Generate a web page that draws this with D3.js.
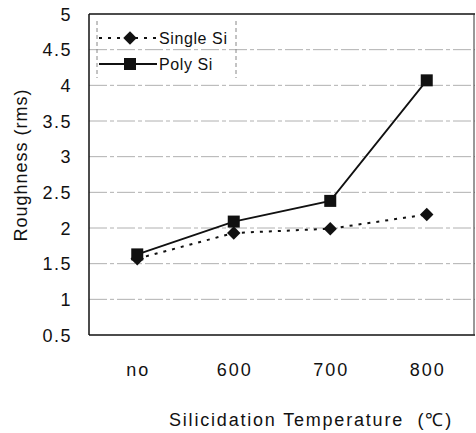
<!DOCTYPE html>
<html><head><meta charset="utf-8">
<script src="https://cdn.jsdelivr.net/npm/d3@7"></script>
<style>body{margin:0;background:#fff}</style>
</head><body><svg id="c" width="476" height="433"></svg>
<script>
const categories = ["no","600","700","800"];
const singleSi = [1.57,1.93,1.99,2.19];
const polySi = [1.63,2.09,2.38,4.07];
const yTicks = [0.5,1,1.5,2,2.5,3,3.5,4,4.5,5];
const yTickLabels = ["0.5","1","1.5","2","2.5","3","3.5","4","4.5","5"];

const svg = d3.select("#c");
const m = {l:89, t:14, r:475, b:335};
const font = "Liberation Sans, Arial, sans-serif";
const x = d3.scalePoint().domain(categories).range([m.l, m.r]).padding(0.5);
const y = d3.scaleLinear().domain([0.5,5]).range([m.b, m.t]);

// grid
svg.append("g").selectAll("line").data(yTicks.filter(d=>d>0.5 && d<5)).join("line")
  .attr("x1", m.l).attr("x2", m.r).attr("y1", d=>y(d)).attr("y2", d=>y(d))
  .attr("stroke","#b0b0b0").attr("stroke-width",1).attr("stroke-dasharray","18,3,4,3");

// frame
svg.append("line").attr("x1",m.l).attr("x2",m.r).attr("y1",m.t).attr("y2",m.t).attr("stroke","#111").attr("stroke-width",1.5);
svg.append("line").attr("x1",m.l).attr("x2",m.r).attr("y1",m.b).attr("y2",m.b).attr("stroke","#111").attr("stroke-width",1.5);
svg.append("line").attr("x1",m.l).attr("x2",m.l).attr("y1",m.t).attr("y2",m.b).attr("stroke","#111").attr("stroke-width",1.5);
svg.append("line").attr("x1",m.r-1).attr("x2",m.r-1).attr("y1",m.t).attr("y2",m.b).attr("stroke","#333").attr("stroke-width",1);

// y axis labels
svg.append("g").selectAll("text").data(yTicks).join("text")
  .attr("x", 72).attr("y", d=>y(d)+6.5).attr("text-anchor","end")
  .attr("font-family",font).attr("font-size",18).attr("letter-spacing",1.5).attr("fill","#111")
  .text((d,i)=>yTickLabels[i]);

// x axis labels
svg.append("g").selectAll("text").data(categories).join("text")
  .attr("x", d=>x(d)+1).attr("y", 376).attr("text-anchor","middle")
  .attr("font-family",font).attr("font-size",18).attr("letter-spacing",2).attr("fill","#111").text(d=>d);

svg.append("text").attr("x",311).attr("y",426).attr("text-anchor","middle")
  .attr("font-family",font).attr("font-size",18).attr("letter-spacing",1.8).attr("fill","#111")
  .attr("xml:space","preserve").text("Silicidation Temperature  (\u2103)");

svg.append("text").attr("transform","translate(27,165) rotate(-90)").attr("text-anchor","middle")
  .attr("font-family",font).attr("font-size",18).attr("letter-spacing",1).attr("fill","#111").text("Roughness (rms)");

// lines
const line = d3.line().x((d,i)=>x(categories[i])).y(d=>y(d));
svg.append("path").datum(singleSi).attr("d",line).attr("fill","none")
  .attr("stroke","#111").attr("stroke-width",2).attr("stroke-dasharray","3,6");
svg.append("path").datum(polySi).attr("d",line).attr("fill","none")
  .attr("stroke","#111").attr("stroke-width",1.8);

const diamond = d3.symbol().type(d3.symbolDiamond2 || d3.symbolDiamond).size(115);
svg.append("g").selectAll("path").data(singleSi).join("path")
  .attr("transform",(d,i)=>`translate(${x(categories[i])},${y(d)})`).attr("d",diamond).attr("fill","#111");
svg.append("g").selectAll("rect").data(polySi).join("rect")
  .attr("x",(d,i)=>x(categories[i])-6).attr("y",d=>y(d)-6).attr("width",12).attr("height",12).attr("fill","#111");

// legend
const lg = svg.append("g");
lg.append("line").attr("x1",97).attr("x2",97).attr("y1",21).attr("y2",78).attr("stroke","#888").attr("stroke-dasharray","4,3");
lg.append("line").attr("x1",236).attr("x2",236).attr("y1",21).attr("y2",78).attr("stroke","#888").attr("stroke-dasharray","4,3");
lg.append("line").attr("x1",99).attr("x2",157).attr("y1",38).attr("y2",38).attr("stroke","#111").attr("stroke-width",2).attr("stroke-dasharray","3,6");
lg.append("path").attr("transform","translate(130,38)").attr("d",diamond).attr("fill","#111");
lg.append("line").attr("x1",99).attr("x2",157).attr("y1",64).attr("y2",64).attr("stroke","#111").attr("stroke-width",1.8);
lg.append("rect").attr("x",124).attr("y",58).attr("width",12).attr("height",12).attr("fill","#111");
lg.append("text").attr("x",159).attr("y",44).attr("font-family",font).attr("font-size",16).attr("letter-spacing",0.6).attr("fill","#111").text("Single Si");
lg.append("text").attr("x",159).attr("y",70).attr("font-family",font).attr("font-size",16).attr("letter-spacing",0.6).attr("fill","#111").text("Poly Si");
</script></body></html>
